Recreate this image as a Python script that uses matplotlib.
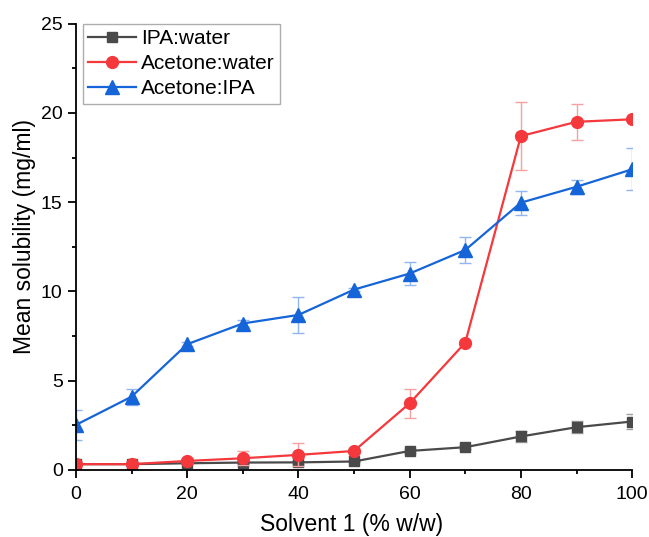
import matplotlib.pyplot as plt
from matplotlib.lines import Line2D
from matplotlib.ticker import MultipleLocator

plt.rcParams['font.family'] = ['Liberation Sans', 'DejaVu Sans']

solvent = [0, 10, 20, 30, 40, 50, 60, 70, 80, 90, 100]

ipa_water = [0.32, 0.32, 0.37, 0.41, 0.42, 0.47, 1.06, 1.27, 1.87, 2.39, 2.71]
ipa_water_err = [0.05, 0.05, 0.05, 0.08, 0.08, 0.05, 0.1, 0.1, 0.3, 0.35, 0.4]

acetone_water = [0.32, 0.32, 0.5, 0.65, 0.84, 1.06, 3.73, 7.13, 18.7, 19.5, 19.64]
acetone_water_err = [0.1, 0.1, 0.1, 0.4, 0.65, 0.1, 0.8, 0.1, 1.9, 1.0, 0.1]

acetone_ipa = [2.52, 4.1, 7.04, 8.2, 8.68, 10.1, 11.0, 12.32, 14.97, 15.86, 16.84]
acetone_ipa_err = [0.85, 0.45, 0.1, 0.22, 1.0, 0.1, 0.65, 0.75, 0.68, 0.4, 1.17]

fig = plt.figure(figsize=(6.49, 5.37), dpi=100)
ax = fig.add_axes([0.117, 0.125, 0.857, 0.831])

series = [
    ('IPA:water', ipa_water, ipa_water_err, '#4a4a4a', '#a0a0a0', 's', 7),
    ('Acetone:water', acetone_water, acetone_water_err, '#f5383c', '#f7a0a2', 'o', 8.5),
    ('Acetone:IPA', acetone_ipa, acetone_ipa_err, '#1565d8', '#8fb6ee', '^', 9.5),
]
handles = []
for name, y, err, c, ec, m, ms in series:
    ax.errorbar(solvent, y, yerr=err, fmt='none', ecolor=ec, elinewidth=1,
                capsize=4, capthick=1)
    ax.plot(solvent, y, color=c, marker=m, markersize=ms, linewidth=1.6)
    handles.append(Line2D([], [], color=c, marker=m, markersize=ms,
                          linewidth=1.6, label=name))

ax.set_xlim(0, 100)
ax.set_ylim(0, 25)
ax.xaxis.set_major_locator(MultipleLocator(20))
ax.xaxis.set_minor_locator(MultipleLocator(10))
ax.yaxis.set_major_locator(MultipleLocator(5))
ax.yaxis.set_minor_locator(MultipleLocator(2.5))
ax.tick_params(which='major', direction='out', length=5.5, width=1.3,
               labelsize=14, pad=4)
ax.tick_params(axis='x', which='major', pad=6)
ax.tick_params(which='minor', direction='out', length=3, width=1.3)
ax.spines['top'].set_visible(False)
ax.spines['right'].set_visible(False)
ax.spines['left'].set_linewidth(1.3)
ax.spines['bottom'].set_linewidth(1.3)

ax.set_xlabel('Solvent 1 (% w/w)', fontsize=16.5)
ax.set_ylabel('Mean solubility (mg/ml)', fontsize=16.5)
ax.xaxis.set_label_coords(0.496, -0.097)
ax.yaxis.set_label_coords(-0.072, 0.522)

leg = ax.legend(handles=handles, loc='upper left', bbox_to_anchor=(0.012, 1.0),
                fontsize=15, frameon=True, fancybox=False,
                edgecolor='#999999', handlelength=2.3, borderpad=0.25,
                labelspacing=0.3, handletextpad=0.25, borderaxespad=0.0)
leg.get_frame().set_linewidth(1.0)

fig.savefig('out.png', dpi=100)
